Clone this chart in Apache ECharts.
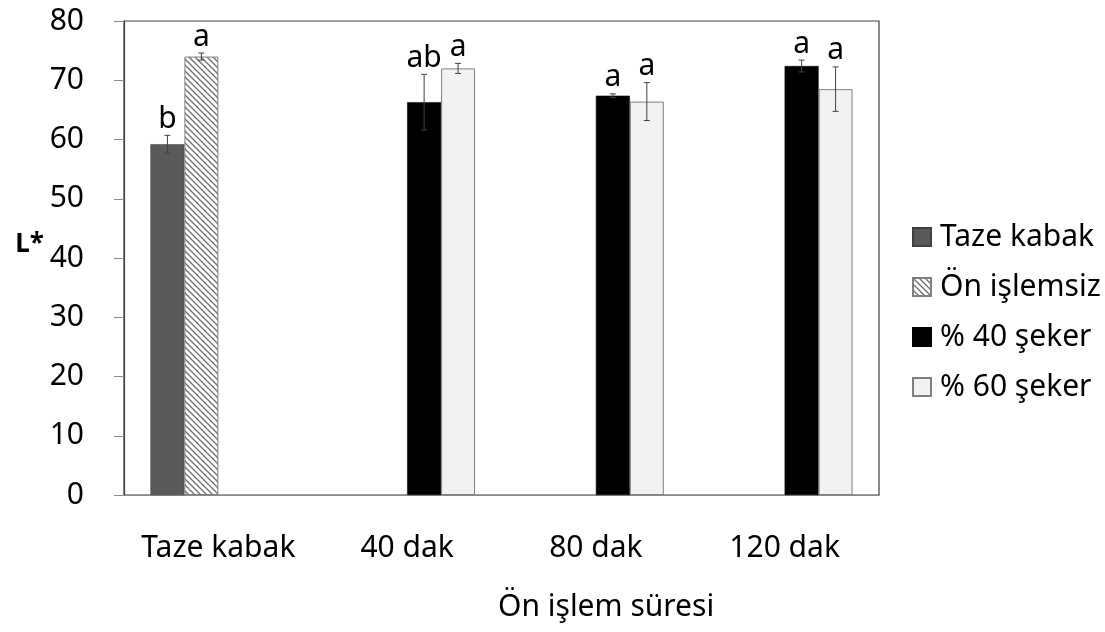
<!DOCTYPE html>
<html>
<head>
<meta charset="utf-8">
<script src="https://cdn.jsdelivr.net/npm/echarts@6/dist/echarts.min.js"></script>
<style>
html,body{margin:0;padding:0;background:#fff;}
#chart{width:1105px;height:632px;}
</style>
</head>
<body>
<div id="chart"></div>
<script>
// ---- data ----
const categories = ['Taze kabak', '40 dak', '80 dak', '120 dak'];
const seriesNames = ['Taze kabak', 'Ön işlemsiz', '% 40 şeker', '% 60 şeker'];
const yTicks = [0, 10, 20, 30, 40, 50, 60, 70, 80];

const tazeKabak   = [59.2, null, null, null];
const onIslemsiz  = [74.0, null, null, null];
const seker40     = [null, 66.3, 67.4, 72.4];
const seker60     = [null, 72.0, 66.4, 68.5];

const tazeKabakErr  = [1.5, null, null, null];
const onIslemsizErr = [0.6, null, null, null];
const seker40Err    = [null, 4.7, 0.3, 1.0];
const seker60Err    = [null, 0.85, 3.2, 3.75];

const tazeKabakLetters  = ['b', null, null, null];
const onIslemsizLetters = ['a', null, null, null];
const seker40Letters    = [null, 'ab', 'a', 'a'];
const seker60Letters    = [null, 'a', 'a', 'a'];

const FONT = 'Noto Sans';
const FS = 30;
const CAT_GAP = 0.28;

// hatch pattern
function makeHatch() {
  const s = 6;
  const c = document.createElement('canvas');
  c.width = s; c.height = s;
  const g = c.getContext('2d');
  g.fillStyle = '#ffffff';
  g.fillRect(0, 0, s, s);
  g.strokeStyle = '#6f6f6f';
  g.lineWidth = 1.3;
  g.beginPath();
  g.moveTo(-1, -1); g.lineTo(s + 1, s + 1);
  g.moveTo(-1, s - 1); g.lineTo(1, s + 1);
  g.moveTo(s - 1, -1); g.lineTo(s + 1, 1);
  g.stroke();
  return c;
}

const values = [tazeKabak, onIslemsiz, seker40, seker60];
const errs = [tazeKabakErr, onIslemsizErr, seker40Err, seker60Err];
const letters = [tazeKabakLetters, onIslemsizLetters, seker40Letters, seker60Letters];
const styles = [
  { color: '#595959', borderColor: '#404040', borderWidth: 0.5 },
  { color: { image: makeHatch(), repeat: 'repeat' }, borderColor: '#7f7f7f', borderWidth: 1 },
  { color: '#000000', borderColor: '#000000', borderWidth: 0.5 },
  { color: '#f2f2f2', borderColor: '#7f7f7f', borderWidth: 1 }
];

const errItems = [];
values.forEach((arr, si) => {
  arr.forEach((v, ci) => {
    if (v != null) errItems.push({ value: [ci, si, v, errs[si][ci] || 0], letter: letters[si][ci] });
  });
});

const barSeries = seriesNames.map((name, si) => ({
  name: name,
  type: 'bar',
  data: values[si].map(v => v == null ? '-' : v),
  barGap: '0%',
  barCategoryGap: (CAT_GAP * 100) + '%',
  itemStyle: styles[si],
  emphasis: { disabled: true },
  z: 2
}));

const errSeries = {
  type: 'custom',
  name: 'err',
  data: errItems.map(d => d.value),
  z: 5,
  silent: true,
  renderItem: function (params, api) {
    const ci = api.value(0), si = api.value(1), v = api.value(2), e = api.value(3);
    const band = api.size([1, 0])[0];
    const bw = band * (1 - CAT_GAP) / 4;
    const cx = api.coord([ci, 0])[0] + (si - 1.5) * bw;
    const yTop = api.coord([ci, v + e])[1];
    const yBot = api.coord([ci, v - e])[1];
    const cap = 3;
    const st = { stroke: '#404040', lineWidth: 1 };
    const children = [
      { type: 'line', shape: { x1: cx, y1: yTop, x2: cx, y2: yBot }, style: st },
      { type: 'line', shape: { x1: cx - cap, y1: yTop, x2: cx + cap, y2: yTop }, style: st },
      { type: 'line', shape: { x1: cx - cap, y1: yBot, x2: cx + cap, y2: yBot }, style: st }
    ];
    const lt = errItems[params.dataIndex].letter;
    if (lt) {
      children.push({
        type: 'text',
        style: {
          text: lt, x: cx, y: yTop - 1,
          align: 'center', verticalAlign: 'bottom',
          fontFamily: FONT, fontSize: FS, fill: '#000'
        }
      });
    }
    return { type: 'group', children: children };
  }
};

const chart = echarts.init(document.getElementById('chart'), null, { renderer: 'canvas' });
chart.setOption({
  backgroundColor: '#ffffff',
  animation: false,
  grid: {
    left: 124, top: 21, right: 226, bottom: 137,
    show: true, borderColor: '#404040', borderWidth: 1.2, backgroundColor: 'transparent'
  },
  legend: {
    orient: 'vertical',
    left: 907, top: 217,
    itemWidth: 18, itemHeight: 18, itemGap: 20,
    icon: 'rect',
    selectedMode: false,
    data: seriesNames,
    textStyle: { fontFamily: FONT, fontSize: FS, color: '#000', padding: [0, 0, 0, 4] }
  },
  xAxis: {
    type: 'category',
    data: categories,
    axisLine: { show: true, lineStyle: { color: '#898989', width: 1 } },
    axisTick: { show: false },
    axisLabel: { interval: 0, margin: 38, fontFamily: FONT, fontSize: FS, color: '#000' }
  },
  yAxis: {
    type: 'value',
    min: yTicks[0], max: yTicks[yTicks.length - 1], interval: 10,
    splitLine: { show: false },
    axisLine: { show: true, lineStyle: { color: '#404040', width: 1.2 } },
    axisTick: { show: true, length: 10, lineStyle: { color: '#898989' } },
    axisLabel: { margin: 40, fontFamily: FONT, fontSize: FS, color: '#000' },
    name: 'L*',
    nameLocation: 'middle',
    nameRotate: 0,
    nameGap: 80,
    nameTextStyle: { fontFamily: FONT, fontSize: 26, fontWeight: 'bold', color: '#000', verticalAlign: 'bottom' }
  },
  graphic: [{
    type: 'text',
    left: 498, top: 592,
    style: { text: 'Ön işlem süresi', fontFamily: FONT, fontSize: FS, fill: '#000' }
  }],
  series: barSeries.concat([errSeries])
});
</script>
</body>
</html>
